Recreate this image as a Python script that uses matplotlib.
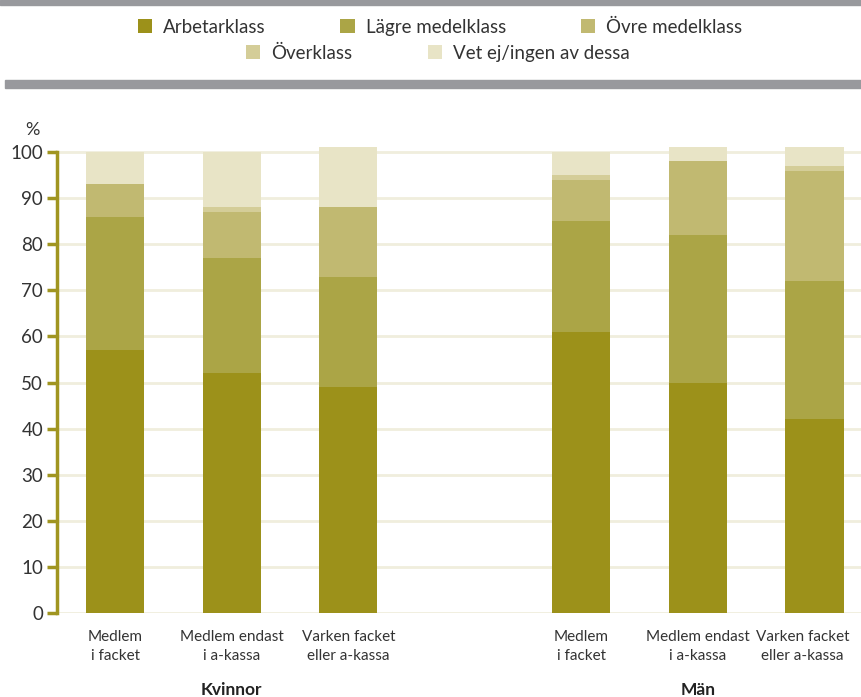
import matplotlib.pyplot as plt
from matplotlib.patches import Rectangle
from matplotlib.transforms import ScaledTranslation
import numpy as np

plt.rcParams['font.family'] = ['Lato', 'DejaVu Sans']

# data
kategorier = ["Medlem\ni facket", "Medlem endast\ni a-kassa", "Varken facket\neller a-kassa"] * 2
grupper = ["Kvinnor", "Män"]
serier = ["Arbetarklass", "Lägre medelklass", "Övre medelklass", "Överklass", "Vet ej/ingen av dessa"]
arbetarklass = [57, 52, 49, 61, 50, 42]
lagre_medel = [29, 25, 24, 24, 32, 30]
ovre_medel = [7, 10, 15, 9, 16, 24]
overklass = [0, 1, 0, 1, 0, 1]
vet_ej = [7, 12, 13, 5, 3, 4]

farger = ['#9c911a', '#aba546', '#c1b971', '#d4cd98', '#e8e4c6']
axel_farg = '#a09520'

fig = plt.figure(figsize=(8.61, 6.97), dpi=100)
ax = fig.add_axes([0.0662, 0.1205, 0.9338, 0.6745])

x = np.array([0, 1, 2, 4, 5, 6])
botten = np.zeros(6)
handles = []
for vals, f, namn in zip([arbetarklass, lagre_medel, ovre_medel, overklass, vet_ej], farger, serier):
    b = ax.bar(x, vals, 0.5, bottom=botten, color=f, label=namn, zorder=3)
    handles.append(b)
    botten += np.array(vals)

ax.set_xlim(-0.5, 6.4)
ax.set_ylim(0, 102)
ax.set_yticks(range(0, 101, 10))
ax.yaxis.grid(True, color='#f0eedd', linewidth=2, zorder=0)
ax.set_xticks(x)
ax.set_xticklabels(kategorier, fontsize=11, color='#333333', linespacing=1.5)
ax.tick_params(axis='x', length=0, pad=12)
ax.tick_params(axis='y', length=7, width=2.5, color=axel_farg, labelsize=13.5, labelcolor='#333333', pad=3)
# last label pulled in so it fits inside the figure
sista = ax.get_xticklabels()[-1]
sista.set_transform(sista.get_transform() + ScaledTranslation(-0.12, 0, fig.dpi_scale_trans))
for s in ['top', 'right', 'bottom']:
    ax.spines[s].set_visible(False)
ax.spines['left'].set_color(axel_farg)
ax.spines['left'].set_linewidth(2.5)
ax.spines['left'].set_bounds(0, 100)

fig.text(32 / 861, 1 - 130 / 697, '%', fontsize=13, color='#333333', ha='center', va='center')
for gx, g in zip([1, 5], grupper):
    ax.text(gx, -16.6, g, transform=ax.transData, ha='center', va='center',
            fontsize=12.5, fontweight='bold', color='#222222')

# gray band lines
fig.add_artist(Rectangle((0, 1 - 5 / 697), 1, 5 / 697, transform=fig.transFigure, color='#98999d'))
fig.add_artist(Rectangle((5 / 861, 1 - 88 / 697), 1, 8 / 697, transform=fig.transFigure, color='#98999d'))

kw = dict(frameon=False, fontsize=13.5, handlelength=0.75, handleheight=0.75,
          handletextpad=0.6, columnspacing=4.0, labelcolor='#333333')
fig.legend(handles[:3], serier[:3], ncol=3, loc='center', bbox_to_anchor=(440 / 861, 1 - 27 / 697), **kw)
fig.legend(handles[3:], serier[3:], ncol=2, loc='center', bbox_to_anchor=(438 / 861, 1 - 53 / 697), **kw)

fig.savefig('out.png', dpi=100)
